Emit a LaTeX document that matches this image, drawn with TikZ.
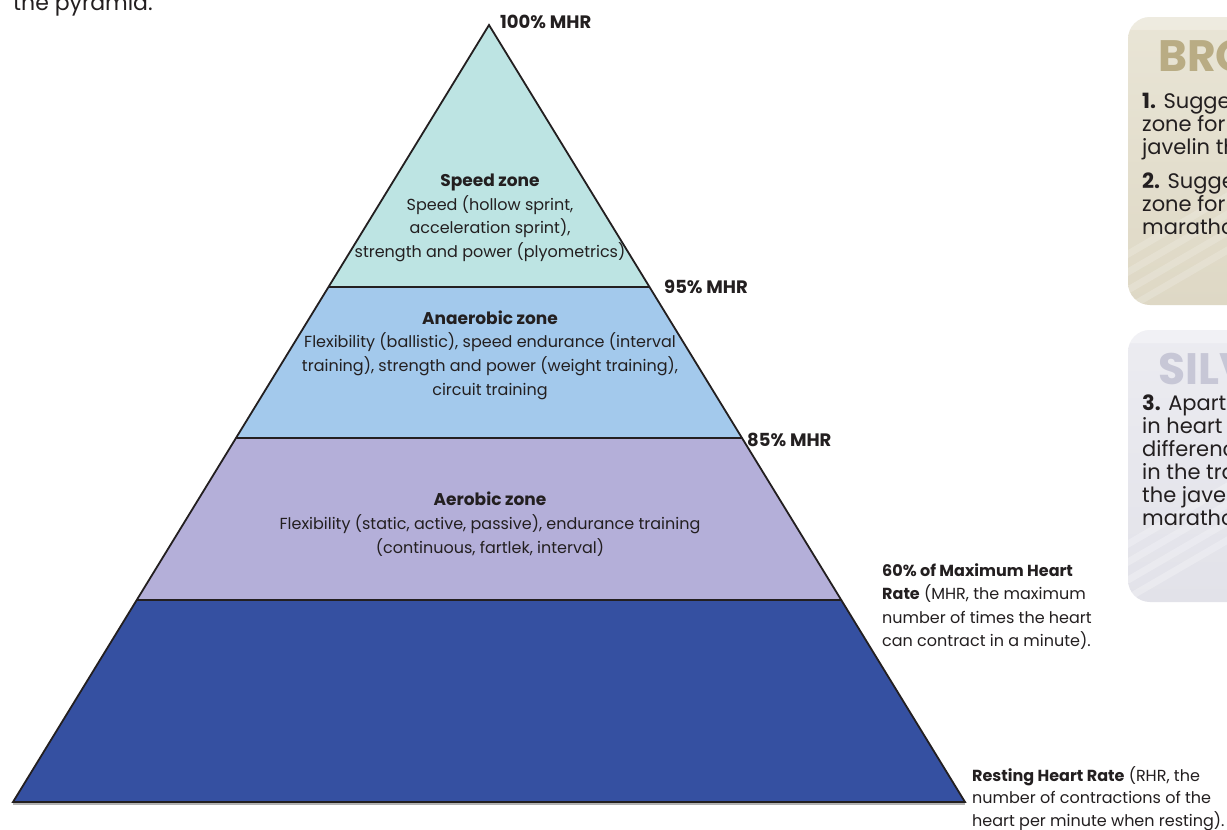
\documentclass[tikz,border=0pt]{standalone}
\usepackage{fontspec}
\setmainfont{Poppins}
\usetikzlibrary{calc}
\definecolor{txt}{HTML}{231F20}
\definecolor{speedc}{HTML}{BDE4E3}
\definecolor{anaerc}{HTML}{A3C9EC}
\definecolor{aerc}{HTML}{B4AFD9}
\definecolor{restc}{HTML}{3550A1}
\definecolor{bronzebg}{HTML}{DED8C5}
\definecolor{bronzetop}{HTML}{E9E5D6}
\definecolor{bronzet}{HTML}{B9AC84}
\definecolor{silverbg}{HTML}{E2E2E9}
\definecolor{silvertop}{HTML}{ECECF1}
\definecolor{silvert}{HTML}{C7C7D6}
\newcommand{\ztitle}[1]{{\fontsize{17}{23.7}\selectfont\bfseries #1}}
\begin{document}
\begin{tikzpicture}[x=1pt,y=-1pt,
  zonetext/.style={align=center,text=txt,font=\fontsize{16}{23.7}\selectfont,inner sep=0pt},
  mhr/.style={anchor=west,text=txt,font=\fontsize{18}{20}\selectfont\bfseries,inner sep=0pt},
  sidetext/.style={anchor=north west,align=left,text=txt,font=\fontsize{16}{23.5}\selectfont,inner sep=0pt},
  boxtext/.style={anchor=north west,align=left,text=txt,font=\fontsize{21}{23}\selectfont,inner sep=0pt},
  boxtitle/.style={anchor=north west,font=\fontsize{44}{44}\selectfont\bfseries,inner sep=0pt},
  edge/.style={draw=txt,line width=1.8pt,line join=miter}]
\path[use as bounding box,fill=white] (0,0) rectangle (1227,830);
\begin{scope}
\clip (0,0) rectangle (1227,830);
% top-left cut text
\node[anchor=base west,text=txt,font=\fontsize{22}{22}\selectfont,inner sep=0pt] (intro) at (13,10) {the pyramid.};

% pyramid
\coordinate (A) at (489,25);
\coordinate (L) at (13,802);
\coordinate (R) at (965,802);
\coordinate (L1) at ($(A)!0.3372!(L)$); \coordinate (R1) at ($(A)!0.3372!(R)$);
\coordinate (L2) at ($(A)!0.5315!(L)$); \coordinate (R2) at ($(A)!0.5315!(R)$);
\coordinate (L3) at ($(A)!0.7400!(L)$); \coordinate (R3) at ($(A)!0.7400!(R)$);
\fill[speedc] (A) -- (R1) -- (L1) -- cycle;
\fill[anaerc] (L1) -- (R1) -- (R2) -- (L2) -- cycle;
\fill[aerc] (L2) -- (R2) -- (R3) -- (L3) -- cycle;
\fill[restc] (L3) -- (R3) -- (R) -- (L) -- cycle;
\draw[gray!60,line width=1.5pt] ($(L)+(0,2)$) -- ($(R)+(0,2)$);
\draw[edge] (L1) -- (R1);
\draw[edge] (L2) -- (R2);
\draw[edge] (L3) -- (R3);
\draw[edge] (A) -- (R) -- (L) -- cycle;

% zone texts
\node[zonetext] (speed) at (490,218) {\ztitle{Speed zone}\\Speed (hollow sprint,\\acceleration sprint),\\strength and power (plyometrics)};
\node[zonetext] (anaer) at (490,355) {\ztitle{Anaerobic zone}\\Flexibility (ballistic), speed endurance (interval\\training), strength and power (weight training),\\circuit training};
\node[zonetext] (aer) at (490,524) {\ztitle{Aerobic zone}\\Flexibility (static, active, passive), endurance training\\(continuous, fartlek, interval)};

% MHR labels
\node[mhr] (m100) at (500,22) {100\% MHR};
\node[mhr] (m95) at (664,287) {95\% MHR};
\node[mhr] (m85) at (747,440) {85\% MHR};
\node[sidetext] (m60) at (882,563) {\textbf{60\% of Maximum Heart}\\\textbf{Rate} (MHR, the maximum\\number of times the heart\\can contract in a minute).};
\node[sidetext,font=\fontsize{16}{22.6}\selectfont] (rhr) at (972,766) {\textbf{Resting Heart Rate} (RHR, the\\number of contractions of the\\heart per minute when resting).};

% bronze box
\begin{scope}
\path[clip,rounded corners=22pt] (1128,17) rectangle (1300,305);
\shade[top color=bronzetop,bottom color=bronzebg] (1128,17) rectangle (1300,305);
\foreach \d in {0,18,36,54} {
  \fill[white,opacity=0.18] (1128,250+\d) -- (1300,150+\d) -- (1300,158+\d) -- (1128,258+\d) -- cycle;
}
\fill[white,opacity=0.25] (1128,17) rectangle (1300,30);
\end{scope}
\node[boxtitle,text=bronzet] (bt) at (1158,40) {BRONZE};
\node[boxtext] (b1) at (1142,92) {\textbf{1.} Suggest a training\\zone for a\\javelin thrower};
\node[boxtext] (b2) at (1142,172) {\textbf{2.} Suggest a training\\zone for a\\marathon runner};

% silver box
\begin{scope}
\path[clip,rounded corners=22pt] (1128,330) rectangle (1300,602);
\shade[top color=silvertop,bottom color=silverbg] (1128,330) rectangle (1300,602);
\foreach \d in {0,18,36,54} {
  \fill[white,opacity=0.25] (1128,540+\d) -- (1300,440+\d) -- (1300,448+\d) -- (1128,548+\d) -- cycle;
}
\fill[white,opacity=0.3] (1128,330) rectangle (1300,343);
\end{scope}
\node[boxtitle,text=silvert] (st) at (1158,353) {SILVER};
\node[boxtext] (s1) at (1142,394) {\textbf{3.} Apart from changes\\in heart rate, what\\differences would there be\\in the training of\\the javelin thrower and the\\marathon runner?};
\end{scope}
\end{tikzpicture}
\end{document}
